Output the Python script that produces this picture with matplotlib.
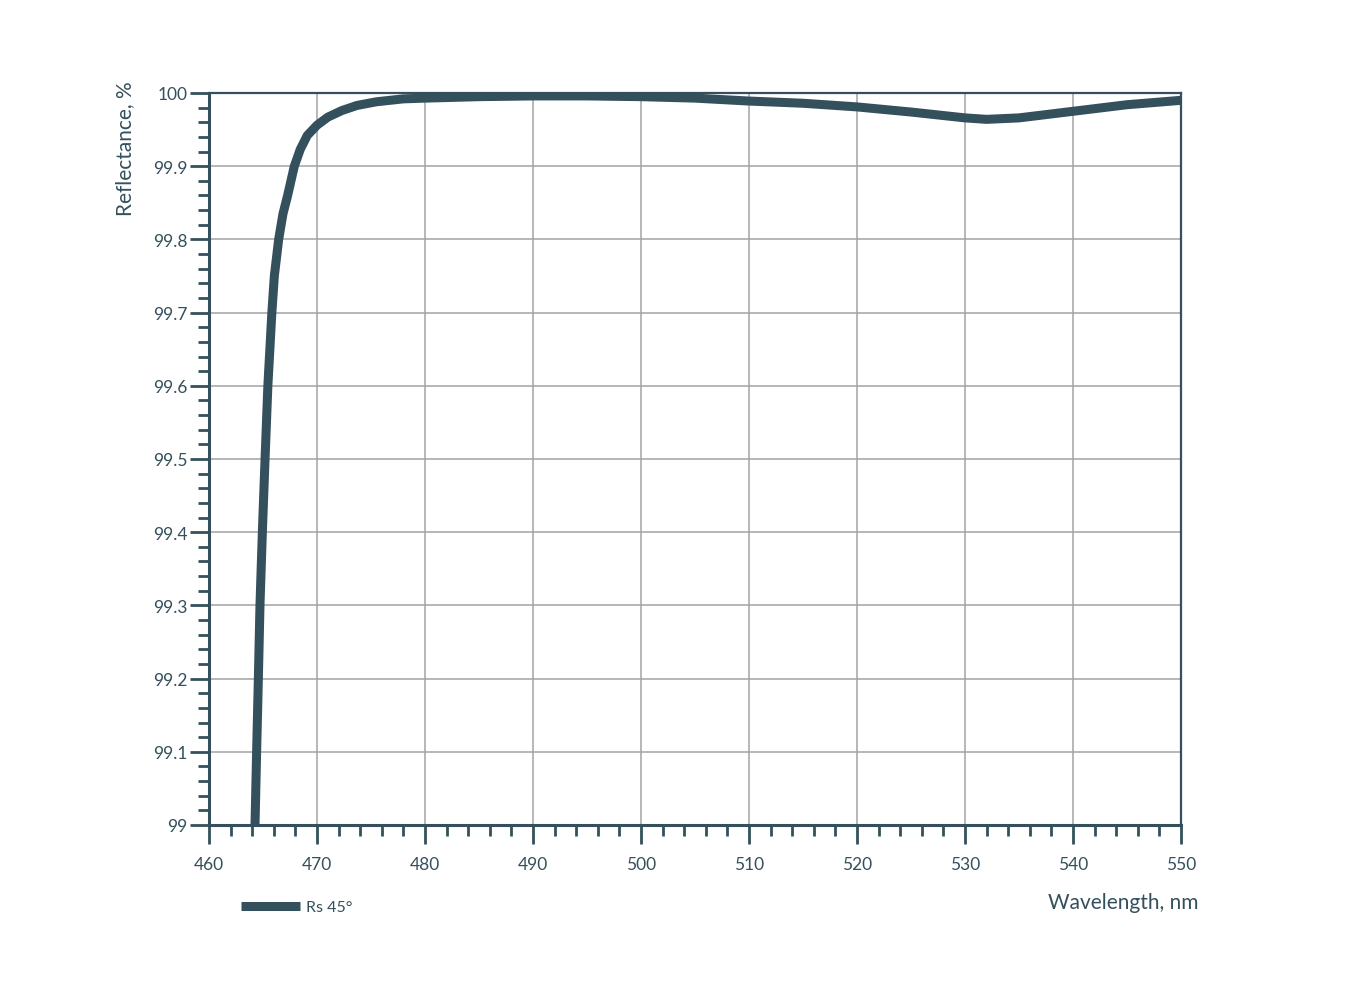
import numpy as np
import matplotlib
matplotlib.use("Agg")
import matplotlib.pyplot as plt
from matplotlib.ticker import MultipleLocator, FormatStrFormatter

# DATA
wavelength = [464.26, 464.41, 464.57, 464.72, 464.94, 465.19, 465.45, 465.82, 466.05,
              466.45, 466.85, 467.28, 467.9, 468.45, 469.1, 470.0, 471.0, 472.3, 473.7,
              475.5, 478, 480, 485, 490, 495, 500, 505, 510, 515, 520, 525, 530, 532,
              535, 540, 545, 550]
reflectance = [99.00, 99.10, 99.20, 99.30, 99.40, 99.50, 99.60, 99.70, 99.75,
               99.80, 99.835, 99.86, 99.90, 99.923, 99.942, 99.956, 99.967, 99.976, 99.983,
               99.988, 99.992, 99.993, 99.995, 99.996, 99.996, 99.995, 99.993, 99.989, 99.986,
               99.981, 99.974, 99.966, 99.964, 99.966, 99.975, 99.984, 99.990]
series_name = "Rs 45°"

DARK = "#34505c"
GRID = "#a3a3a6"

plt.rcParams['font.family'] = ['Lato', 'DejaVu Sans']

fig = plt.figure(figsize=(13.66, 10.03), dpi=100)
ax = fig.add_axes([209/1366, 1-826/1003, 972/1366, 732/1003])

ax.plot(wavelength, reflectance, color=DARK, lw=6.5, solid_joinstyle='round',
        solid_capstyle='butt', label=series_name, zorder=3)

ax.set_xlim(460, 550)
ax.set_ylim(99, 100)

# TICKS
ax.xaxis.set_major_locator(MultipleLocator(10))
ax.xaxis.set_minor_locator(MultipleLocator(2))
ax.yaxis.set_major_locator(MultipleLocator(0.1))
ax.yaxis.set_minor_locator(MultipleLocator(0.02))
ax.yaxis.set_major_formatter(FormatStrFormatter('%g'))
ax.tick_params(axis='both', which='major', direction='out', length=14, width=2,
               color=DARK, labelcolor=DARK, labelsize=12.5)
ax.tick_params(axis='both', which='minor', direction='out', length=8, width=2, color=DARK)
ax.tick_params(axis='x', which='major', pad=8)
ax.tick_params(axis='y', which='major', pad=1.5)

# GRID
ax.grid(True, which='major', color=GRID, lw=1.1, zorder=1)

# SPINES
for side in ['left', 'bottom']:
    ax.spines[side].set_color(DARK)
    ax.spines[side].set_linewidth(2.2)
for side in ['top', 'right']:
    ax.spines[side].set_color(DARK)
    ax.spines[side].set_linewidth(1.6)

# AXIS LABELS
fig.text(125.5/1366, 1-149/1003, "Reflectance, %", rotation=90, ha='center', va='center',
         fontsize=15, color=DARK)
fig.text(1198/1366, 1-903/1003, "Wavelength, nm", ha='right', va='center',
         fontsize=15, color=DARK)

# LEGEND
ax.legend(loc='center left', bbox_to_anchor=(241/1366, 1-908/1003), bbox_transform=fig.transFigure,
          frameon=False, borderpad=0, borderaxespad=0, handlelength=3.7, handletextpad=0.4,
          prop={'size': 11.5}, labelcolor=DARK)

fig.savefig("out.png", dpi=100)
